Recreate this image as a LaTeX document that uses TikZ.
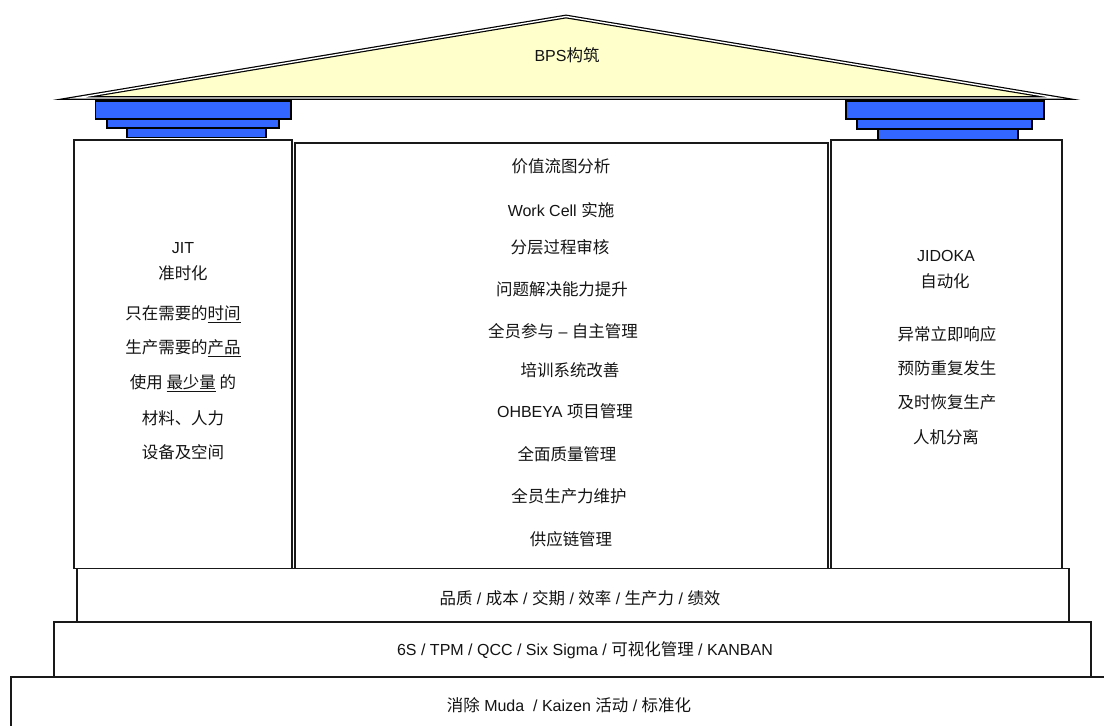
\documentclass[tikz,border=0pt]{standalone}
\usepackage{fontspec}
\setmainfont{Liberation Sans}
\newfontfamily\cjk{Noto Sans CJK SC}[Scale=1.03]
\newcommand\zh[1]{{\cjk #1}}
\definecolor{capblue}{HTML}{3366FF}
\definecolor{roofyellow}{HTML}{FFFFCC}
\definecolor{txt}{HTML}{141414}
\begin{document}
\begin{tikzpicture}[x=1pt,y=-1pt,
  lbl/.style={inner sep=0pt, font=\fontsize{16}{19}\selectfont, text=txt},
  capblock/.style={draw=black, fill=capblue, line width=1.1pt},
  boxpart/.style={draw=black!90, fill=white, line width=1.1pt},
  roofpart/.style={fill=roofyellow, draw=black, line width=1.2pt, double=white, double distance=1.4pt, line join=miter, miter limit=14}
]
\useasboundingbox (0,0) rectangle (1104,726);
\clip (0,0) rectangle (1104,726);
\fill[white] (0,0) rectangle (1104,726);

% foundation bands
\path[boxpart] (11,677) rectangle (1125,745);
\path[boxpart] (54,622) rectangle (1091,677);
\path[boxpart] (77,568.5) rectangle (1069,622);

% pillars and centre
\path[boxpart] (74,140) rectangle (292,568.5);
\path[boxpart] (295,143) rectangle (828,568.5);
\path[boxpart] (831,140) rectangle (1062,568.5);

% capitals
\path[capblock] (95.5,101) rectangle (291,119);
\path[capblock] (107,119) rectangle (279,128);
\path[capblock] (127,128) rectangle (266,137.5);
\path[capblock] (846,101) rectangle (1044,119);
\path[capblock] (857,119) rectangle (1032,129);
\path[capblock] (878,129) rectangle (1018,139.5);

% roof
\path[roofpart] (76,98) -- (566,16.5) -- (1057,98) -- cycle;
\node[lbl] (roof) at (567,55) {BPS\zh{构筑}};

% left pillar
\node[lbl] (jit)  at (183,248) {JIT};
\node[lbl] (jit1) at (183,273) {\zh{准时化}};
\node[lbl] (jit2) at (183,314) {\zh{只在需要的\underline{时间}}};
\node[lbl] (jit3) at (183,348) {\zh{生产需要的\underline{产品}}};
\node[lbl] (jit4) at (183,383) {\zh{使用 \underline{最少量} 的}};
\node[lbl] (jit5) at (183,418) {\zh{材料、人力}};
\node[lbl] (jit6) at (183,452) {\zh{设备及空间}};

% centre
\node[lbl] (c1)  at (561,166) {\zh{价值流图分析}};
\node[lbl] (c2)  at (561,210) {Work Cell \zh{实施}};
\node[lbl] (c3)  at (560,247) {\zh{分层过程审核}};
\node[lbl] (c4)  at (562,289) {\zh{问题解决能力提升}};
\node[lbl] (c5)  at (563,331) {\zh{全员参与} – \zh{自主管理}};
\node[lbl] (c6)  at (570,370) {\zh{培训系统改善}};
\node[lbl] (c7)  at (565,411) {OHBEYA \zh{项目管理}};
\node[lbl] (c8)  at (567,454) {\zh{全面质量管理}};
\node[lbl] (c9)  at (569,496) {\zh{全员生产力维护}};
\node[lbl] (c10) at (571,539) {\zh{供应链管理}};

% right pillar
\node[lbl] (jd)  at (946,256) {JIDOKA};
\node[lbl] (jd1) at (945,281) {\zh{自动化}};
\node[lbl] (jd2) at (947,334) {\zh{异常立即响应}};
\node[lbl] (jd3) at (947,368) {\zh{预防重复发生}};
\node[lbl] (jd4) at (947,402) {\zh{及时恢复生产}};
\node[lbl] (jd5) at (946,437) {\zh{人机分离}};

% bands text
\node[lbl] (b1) at (580,598) {\zh{品质} / \zh{成本} / \zh{交期} / \zh{效率} / \zh{生产力} / \zh{绩效}};
\node[lbl] (b2) at (585,650) {6S / TPM / QCC / Six Sigma / \zh{可视化管理} / KANBAN};
\node[lbl] (b3) at (569,705) {\zh{消除} Muda \ / Kaizen \zh{活动} / \zh{标准化}};
\end{tikzpicture}
\end{document}
